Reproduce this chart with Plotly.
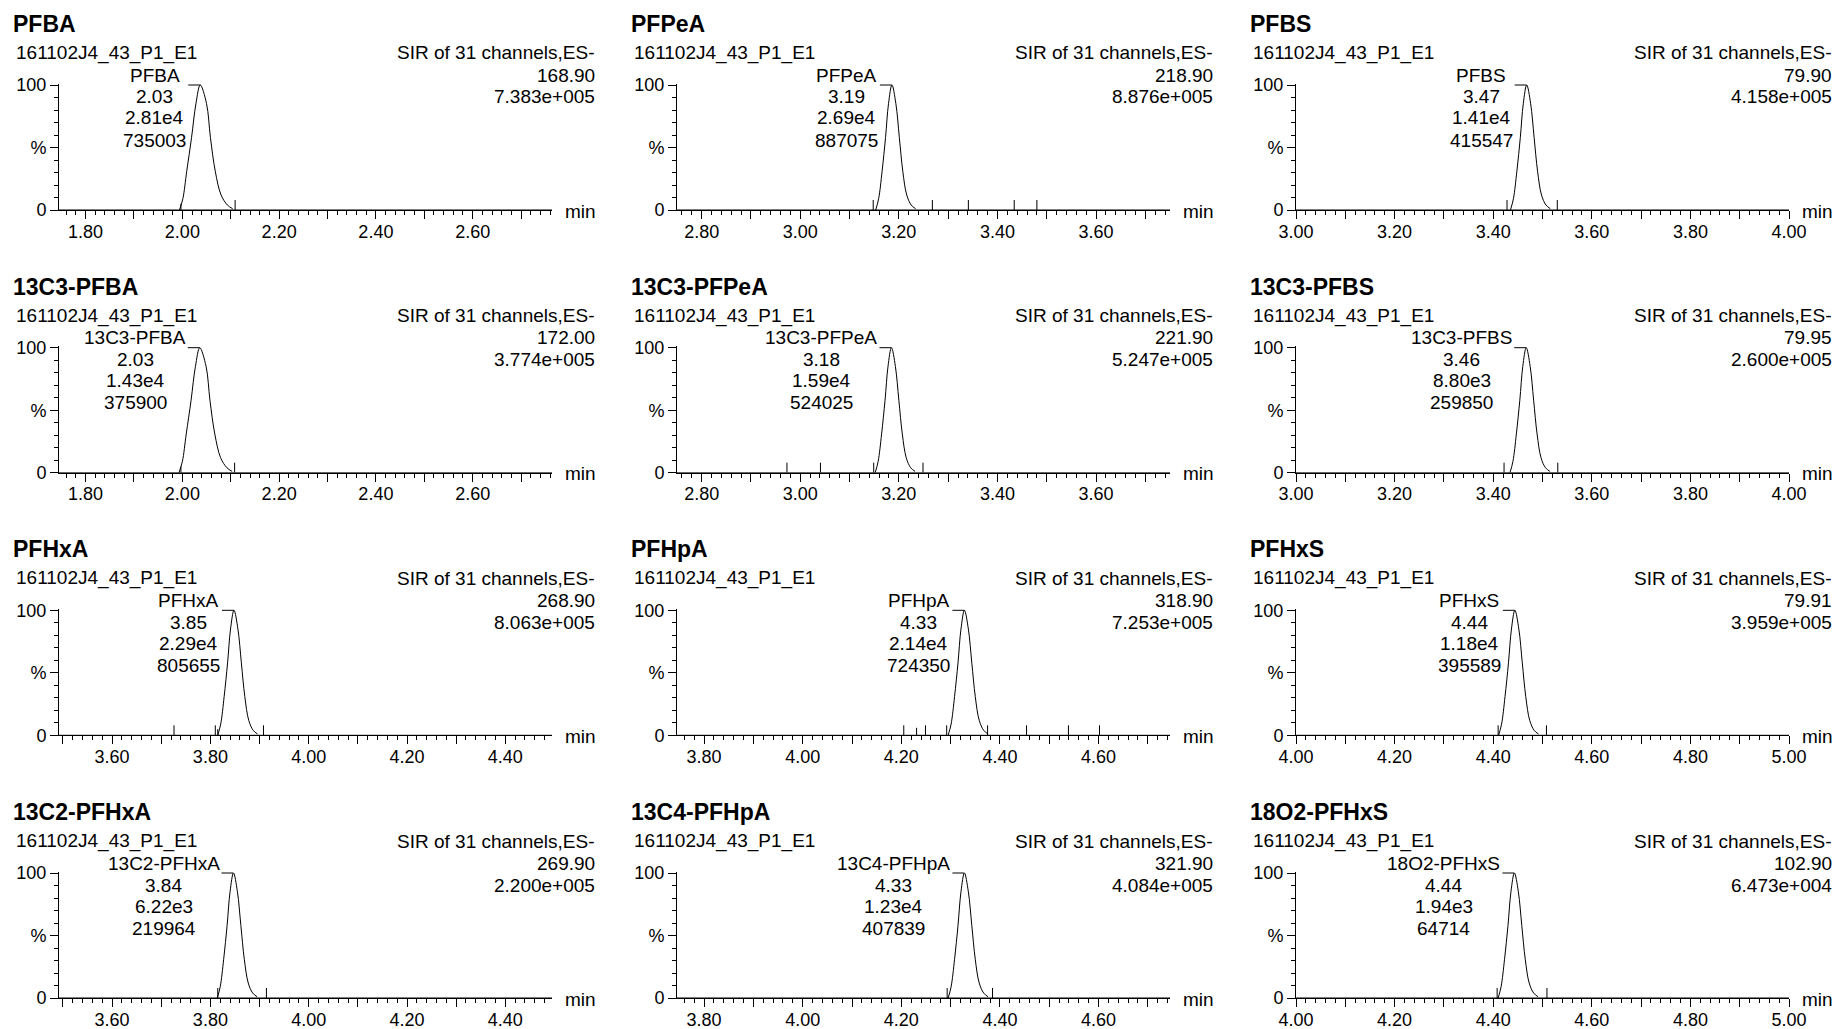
import math
import plotly.graph_objects as go

# ---------------- data ----------------
compounds = ["PFBA", "PFPeA", "PFBS",
             "13C3-PFBA", "13C3-PFPeA", "13C3-PFBS",
             "PFHxA", "PFHpA", "PFHxS",
             "13C2-PFHxA", "13C4-PFHpA", "18O2-PFHxS"]
sample_name = "161102J4_43_P1_E1"
function_text = "SIR of 31 channels,ES-"
masses = ["168.90", "218.90", "79.90", "172.00", "221.90", "79.95",
          "268.90", "318.90", "79.91", "269.90", "321.90", "102.90"]
max_intensity = ["7.383e+005", "8.876e+005", "4.158e+005", "3.774e+005", "5.247e+005", "2.600e+005",
                 "8.063e+005", "7.253e+005", "3.959e+005", "2.200e+005", "4.084e+005", "6.473e+004"]
peak_rt_labels = ["2.03", "3.19", "3.47", "2.03", "3.18", "3.46",
                  "3.85", "4.33", "4.44", "3.84", "4.33", "4.44"]
peak_area_labels = ["2.81e4", "2.69e4", "1.41e4", "1.43e4", "1.59e4", "8.80e3",
                    "2.29e4", "2.14e4", "1.18e4", "6.22e3", "1.23e4", "1.94e3"]
peak_height_labels = ["735003", "887075", "415547", "375900", "524025", "259850",
                      "805655", "724350", "395589", "219964", "407839", "64714"]

x_ranges = [[1.745, 2.764], [2.75, 3.75], [3.00, 4.00],
            [1.745, 2.764], [2.75, 3.75], [3.00, 4.00],
            [3.492, 4.495], [3.745, 4.745], [4.00, 5.00],
            [3.492, 4.495], [3.745, 4.745], [4.00, 5.00]]
x_tick_labels = [["1.80", "2.00", "2.20", "2.40", "2.60"],
                 ["2.80", "3.00", "3.20", "3.40", "3.60"],
                 ["3.00", "3.20", "3.40", "3.60", "3.80", "4.00"],
                 ["1.80", "2.00", "2.20", "2.40", "2.60"],
                 ["2.80", "3.00", "3.20", "3.40", "3.60"],
                 ["3.00", "3.20", "3.40", "3.60", "3.80", "4.00"],
                 ["3.60", "3.80", "4.00", "4.20", "4.40"],
                 ["3.80", "4.00", "4.20", "4.40", "4.60"],
                 ["4.00", "4.20", "4.40", "4.60", "4.80", "5.00"],
                 ["3.60", "3.80", "4.00", "4.20", "4.40"],
                 ["3.80", "4.00", "4.20", "4.40", "4.60"],
                 ["4.00", "4.20", "4.40", "4.60", "4.80", "5.00"]]
y_tick_values = [0, 50, 100]
y_tick_labels = ["0", "%", "100"]

# peak profile: relative intensity (%) at each sampled point
peak_pct = [0, 9, 31, 58, 85, 100, 85, 58, 31, 12, 4, 1]
# retention times (min) of those points, one list per panel
peak_times = [
    [1.994, 2.001, 2.009, 2.019, 2.028, 2.037, 2.050, 2.058, 2.068, 2.080, 2.093, 2.104],
    [3.153, 3.159, 3.166, 3.173, 3.179, 3.186, 3.194, 3.201, 3.208, 3.216, 3.225, 3.234],
    [3.435, 3.441, 3.448, 3.455, 3.461, 3.468, 3.476, 3.483, 3.490, 3.498, 3.507, 3.516],
    [1.993, 2.000, 2.008, 2.018, 2.027, 2.036, 2.049, 2.057, 2.067, 2.079, 2.092, 2.103],
    [3.152, 3.158, 3.165, 3.172, 3.178, 3.185, 3.193, 3.200, 3.207, 3.215, 3.224, 3.233],
    [3.434, 3.440, 3.447, 3.454, 3.460, 3.467, 3.475, 3.482, 3.489, 3.497, 3.506, 3.515],
    [3.815, 3.821, 3.828, 3.835, 3.841, 3.848, 3.856, 3.863, 3.870, 3.878, 3.887, 3.896],
    [4.295, 4.301, 4.308, 4.315, 4.321, 4.328, 4.336, 4.343, 4.350, 4.358, 4.367, 4.376],
    [4.411, 4.417, 4.424, 4.431, 4.437, 4.444, 4.452, 4.459, 4.466, 4.474, 4.483, 4.492],
    [3.814, 3.820, 3.827, 3.834, 3.840, 3.847, 3.855, 3.862, 3.869, 3.877, 3.886, 3.895],
    [4.295, 4.301, 4.308, 4.315, 4.321, 4.328, 4.336, 4.343, 4.350, 4.358, 4.367, 4.376],
    [4.410, 4.416, 4.423, 4.430, 4.436, 4.443, 4.451, 4.458, 4.465, 4.473, 4.482, 4.491],
]
# short vertical integration / spike marks on the baseline
marker_times = [
    [1.997, 2.109],
    [3.148, 3.268, 3.341, 3.434, 3.480],
    [3.428, 3.530],
    [1.997, 2.108],
    [2.973, 3.041, 3.149, 3.249],
    [3.422, 3.531],
    [3.726, 3.810, 3.815, 3.908],
    [4.205, 4.231, 4.249, 4.292, 4.375, 4.454, 4.539, 4.602],
    [4.410, 4.508],
    [3.815, 3.914],
    [4.293, 4.385],
    [4.408, 4.509],
]
marker_pct = [
    [5, 8],
    [8, 8, 8, 8, 8],
    [8, 8],
    [5, 8],
    [8, 8, 8, 8],
    [8, 8],
    [8, 8, 5, 8],
    [8, 6, 8, 8, 8, 8, 8, 8],
    [8, 8],
    [8, 8],
    [8, 8],
    [8, 8],
]

# ---------------- layout / style ----------------
W, H = 1835, 1029
FONT = "Liberation Sans, Arial, sans-serif"
TXT = 19
col_x0 = [59, 677, 1296]
axis_w = 493
row_zero = [210, 472.7, 735.3, 998]
px_per_pct = 1.25
YMAX = 101

CHAR_W = {str(d): 0.556 for d in range(10)}
CHAR_W.update({".": 0.278, "e": 0.556, "-": 0.333, "+": 0.584, "A": 0.667, "B": 0.667,
               "C": 0.722, "F": 0.611, "H": 0.722, "O": 0.778, "P": 0.667, "S": 0.667,
               "x": 0.5, "p": 0.556})


def text_w(s, size):
    return sum(CHAR_W.get(ch, 0.556) for ch in s) * size


def px_x(p):
    return p / W


def px_y(p):
    return 1 - p / H


fig = go.Figure()
annotations = []
shapes = []
layout_axes = {}

for i in range(12):
    r, c = divmod(i, 3)
    n = i + 1
    xa = "x" if n == 1 else f"x{n}"
    ya = "y" if n == 1 else f"y{n}"
    xkey = "xaxis" if n == 1 else f"xaxis{n}"
    ykey = "yaxis" if n == 1 else f"yaxis{n}"
    x0 = col_x0[c]
    x1 = x0 + axis_w
    zy = row_zero[r]
    top = zy - YMAX * px_per_pct
    lo, hi = x_ranges[i]

    # baseline
    fig.add_trace(go.Scatter(x=[lo, hi], y=[0, 0], mode="lines", xaxis=xa, yaxis=ya,
                             line=dict(color="black", width=1), hoverinfo="skip"))
    # peak
    fig.add_trace(go.Scatter(x=peak_times[i], y=peak_pct, mode="lines", xaxis=xa, yaxis=ya,
                             line=dict(color="black", width=1, shape="spline", smoothing=1),
                             hoverinfo="skip"))
    # marks
    mx, my = [], []
    for t, h in zip(marker_times[i], marker_pct[i]):
        mx += [t, t, None]
        my += [0, h, None]
    fig.add_trace(go.Scatter(x=mx, y=my, mode="lines", xaxis=xa, yaxis=ya,
                             line=dict(color="black", width=1), hoverinfo="skip"))

    # ticks every 0.1 labelled every 0.2
    start = math.ceil(lo * 10 - 1e-6) / 10
    tv = []
    v = start
    while v <= hi + 1e-6:
        tv.append(round(v, 2))
        v += 0.1
    labs = {float(s): s for s in x_tick_labels[i]}
    tt = [labs.get(round(t, 2), "") for t in tv]

    layout_axes[xkey] = dict(
        domain=[px_x(x0), px_x(x1)], anchor=ya, range=[lo, hi],
        tickmode="array", tickvals=tv, ticktext=tt,
        ticks="outside", ticklen=8, tickwidth=1, tickcolor="black",
        ticklabelstandoff=-3,
        minor=dict(tickmode="linear", tick0=0, dtick=0.02, ticks="outside",
                   ticklen=4, tickwidth=1, tickcolor="black", showgrid=False),
        showline=True, linecolor="black", linewidth=1,
        showgrid=False, zeroline=False, automargin=False,
        tickfont=dict(family=FONT, size=18, color="black"), fixedrange=True)
    layout_axes[ykey] = dict(
        domain=[px_y(zy), px_y(top)], anchor=xa, range=[0, YMAX],
        tickmode="array", tickvals=y_tick_values, ticktext=y_tick_labels,
        ticks="outside", ticklen=8, tickwidth=1, tickcolor="black",
        minor=dict(tickmode="linear", tick0=0, dtick=10, ticks="outside",
                   ticklen=4, tickwidth=1, tickcolor="black", showgrid=False),
        showline=True, linecolor="black", linewidth=1,
        showgrid=False, zeroline=False, automargin=False,
        tickfont=dict(family=FONT, size=18, color="black"), fixedrange=True)

    def ann(text, xp, yp, xanchor, size=TXT, bold=False):
        annotations.append(dict(
            text=f"<b>{text}</b>" if bold else text, x=px_x(xp), y=px_y(yp),
            xref="paper", yref="paper", xanchor=xanchor, yanchor="middle",
            showarrow=False, font=dict(family=FONT, size=size, color="black")))

    ann(compounds[i], x0 - 48, zy - 186, "left", size=23, bold=True)
    ann(sample_name, x0 - 45, zy - 157, "left")
    ann(function_text, x1 + 45, zy - 157, "right")
    ann(masses[i], x1 + 45, zy - 135, "right")
    ann(max_intensity[i], x1 + 45, zy - 113, "right")
    ann("min", x1 + 11, zy + 1, "left")

    # peak label block
    apex = peak_times[i][peak_pct.index(100)]
    lines = [compounds[i], peak_rt_labels[i], peak_area_labels[i], peak_height_labels[i]]
    bw = max(text_w(s, TXT) for s in lines)
    shift = -(14 + bw / 2)
    for k, (s, dy) in enumerate(zip(lines, [-135, -113, -92, -70])):
        annotations.append(dict(
            text=s, x=apex, xref=xa, xshift=shift, y=px_y(zy + dy), yref="paper",
            xanchor="center", yanchor="middle", showarrow=False,
            font=dict(family=FONT, size=TXT, color="black")))
    shapes.append(dict(type="line", xref=xa, yref=ya, xsizemode="pixel", xanchor=apex,
                       x0=-12, x1=0, y0=100, y1=100, line=dict(color="black", width=1)))

fig.update_layout(
    width=W, height=H, autosize=False,
    margin=dict(l=0, r=0, t=0, b=0, pad=0, autoexpand=False),
    paper_bgcolor="white", plot_bgcolor="white", showlegend=False,
    annotations=annotations, shapes=shapes, **layout_axes)

fig.write_html("out.html", config={"displayModeBar": False},
               post_script="document.body.style.margin='0';")
